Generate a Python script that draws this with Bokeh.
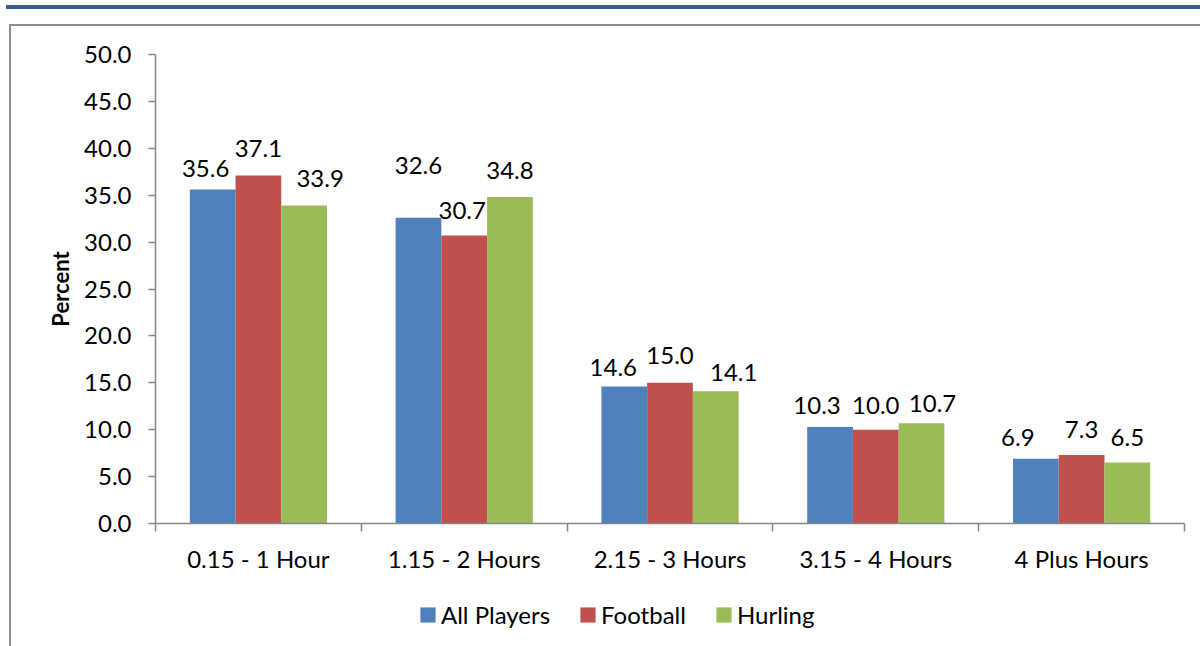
import math
from bokeh.plotting import figure
from bokeh.models import (ColumnDataSource, Range1d, FixedTicker, Legend, LegendItem, Label,
                          PrintfTickFormatter, InlineStyleSheet)
from bokeh.transform import dodge
from bokeh.core.properties import value
from bokeh.embed import file_html
from bokeh.resources import INLINE

# ---------------- data ----------------
categories = ["0.15 - 1 Hour", "1.15 - 2 Hours", "2.15 - 3 Hours", "3.15 - 4 Hours", "4 Plus Hours"]
series_names = ["All Players", "Football", "Hurling"]
all_players = [35.6, 32.6, 14.6, 10.3, 6.9]
football = [37.1, 30.7, 15.0, 10.0, 7.3]
hurling = [33.9, 34.8, 14.1, 10.7, 6.5]
y_ticks = [0, 5, 10, 15, 20, 25, 30, 35, 40, 45, 50]
y_title = "Percent"

# ---------------- layout / styles (pixels) ----------------
W, H = 1200, 646
AX_LEFT, AX_RIGHT, AX_TOP, AX_BOTTOM = 155, 1184, 54, 523   # pixel box of the value axes
colors = ["#4F81BD", "#C0504D", "#9BBB59"]
label_dx = [[-7, 0, -11, -13, -18], [0, -2, 0, 0, 0], [16, 0, 18, 11, 0]]
label_up = [[21, 52, 19, 21, 21], [27, 25, 27, 24, 26], [27, 27, 19, 20, 25]]
FONT = "Lato"
FS = "24px"
AXIS_GRAY = "#868686"

n = len(categories)
ymax = y_ticks[-1]
ux = (AX_RIGHT - AX_LEFT) / n           # pixels per category
uy = (AX_BOTTOM - AX_TOP) / ymax        # pixels per percent
x_range = Range1d(-AX_LEFT / ux, n + (W - AX_RIGHT) / ux)
y_range = Range1d(-(H - AX_BOTTOM) / uy, ymax + AX_TOP / uy)

p = figure(width=W, height=H, output_backend="svg", toolbar_location=None,
           x_range=x_range, y_range=y_range, min_border=0,
           background_fill_color="white", border_fill_color="white")
p.xgrid.visible = False
p.ygrid.visible = False
p.outline_line_color = None

x_center = [i + 0.5 for i in range(n)]
src = ColumnDataSource(dict(x=x_center, s0=all_players, s1=football, s2=hurling))

bw = 1 / 4.5
offsets = [-bw, 0.0, bw]
values = [all_players, football, hurling]
renderers = []
for k in range(3):
    r = p.vbar(x=dodge("x", offsets[k], range=p.x_range), top="s%d" % k, width=bw, source=src,
               fill_color=colors[k], line_color=None)
    renderers.append(r)
    lsrc = ColumnDataSource(dict(x=x_center, y=values[k],
                                 t=["%.1f" % v for v in values[k]],
                                 dx=label_dx[k], dy=[-u for u in label_up[k]]))
    p.text(x=dodge("x", offsets[k], range=p.x_range), y="y", text="t", source=lsrc,
           x_offset="dx", y_offset="dy", text_align="center", text_baseline="middle",
           text_font=value(FONT), text_font_size=value(FS), text_color="black")

# x axis (drawn at y = 0)
xa = p.xaxis[0]
xa.fixed_location = 0
xa.bounds = (0, n)
xa.ticker = FixedTicker(ticks=x_center, minor_ticks=list(range(n + 1)))
xa.major_label_overrides = {x: c for x, c in zip(x_center, categories)}
xa.major_tick_out = 0
xa.major_tick_in = 0
xa.minor_tick_out = 8
xa.minor_tick_in = 0
xa.minor_tick_line_color = AXIS_GRAY
xa.minor_tick_line_width = 1.5
xa.axis_line_color = AXIS_GRAY
xa.axis_line_width = 1.5
xa.major_label_standoff = 12
xa.major_label_text_font = FONT
xa.major_label_text_font_size = FS
xa.major_label_text_color = "black"

# y axis (drawn at x = 0)
ya = p.yaxis[0]
ya.fixed_location = 0
ya.bounds = (0, ymax)
ya.ticker = FixedTicker(ticks=y_ticks)
ya.formatter = PrintfTickFormatter(format="%.1f")
ya.major_tick_out = 7
ya.major_tick_in = 0
ya.minor_tick_line_color = None
ya.major_tick_line_color = AXIS_GRAY
ya.major_tick_line_width = 1.5
ya.axis_line_color = AXIS_GRAY
ya.axis_line_width = 1.5
ya.major_label_standoff = 17
ya.major_label_text_font = FONT
ya.major_label_text_font_size = FS
ya.major_label_text_color = "black"

# y-axis title
p.add_layout(Label(x=60, x_units="screen", y=ymax / 2, text=y_title, angle=math.pi / 2,
                   text_align="center", text_baseline="middle", text_font=FONT,
                   text_font_size="22px", text_font_style="bold", text_color="black"))

# legend
legend = Legend(items=[LegendItem(label=s, renderers=[r]) for s, r in zip(series_names, renderers)],
                orientation="horizontal", location=(418, 17),
                glyph_width=19, glyph_height=19, label_standoff=4, spacing=28,
                padding=0, margin=0, border_line_color=None, background_fill_alpha=0,
                label_text_font=FONT, label_text_font_size=FS, label_text_color="black")
p.add_layout(legend, "center")

# decorative page rules (blue band on top, grey frame)
css = """
:host { position: relative; }
:host::before { content: ""; position: absolute; left: 6px; top: 5px; width: 1194px; height: 4px;
                background: #365F91; z-index: 5; pointer-events: none; }
:host::after { content: ""; position: absolute; left: 9px; top: 24px; width: 1191px; height: 622px;
               box-sizing: border-box; border-top: 2px solid #8C8C8C; border-left: 2px solid #8C8C8C;
               z-index: 5; pointer-events: none; }
"""
p.stylesheets = [InlineStyleSheet(css=css)]

open("out.html", "w").write(file_html(p, INLINE))
